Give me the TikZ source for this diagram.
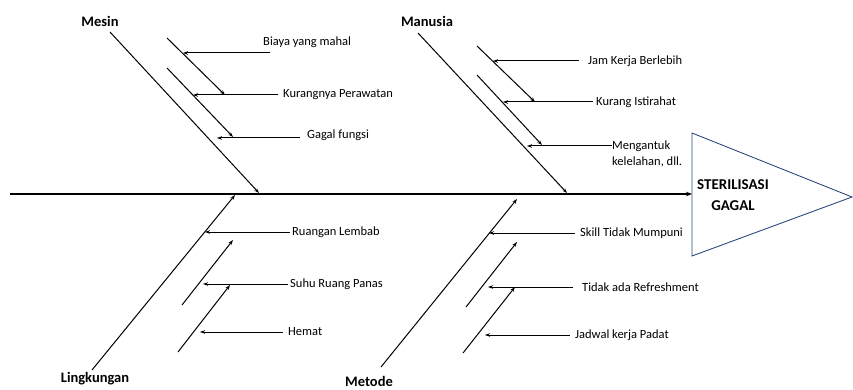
\documentclass[tikz,border=0pt]{standalone}
\usepackage{fontspec}
\setmainfont{Carlito}
\usetikzlibrary{arrows.meta}
\definecolor{tri}{RGB}{47,72,125}
\begin{document}
\begin{tikzpicture}[x=1pt,y=-1pt,
  bone/.style={line width=1pt,-{Stealth[length=5pt,width=3.5pt]}},
  cause/.style={line width=1pt,-{Stealth[length=5pt,width=3.5pt]}},
  lab/.style={anchor=west,inner sep=0pt,font=\fontsize{12.5}{14}\selectfont},
  cat/.style={inner sep=0pt,font=\fontsize{14.5}{16}\selectfont\bfseries},
  spine/.style={line width=1.7pt,-{Stealth[length=6pt,width=4.5pt]}}]
\useasboundingbox (0,0) rectangle (853,390);
% head
\draw[tri,line width=0.9pt] (692,133) -- (852,197) -- (692,256) -- cycle;
\node[inner sep=0pt,align=center,font=\fontsize{15}{21}\selectfont\bfseries] (head) at (733,195) {STERILISASI\\GAGAL};
% spine
\coordinate (s0) at (10,194);
\coordinate (s1) at (692,194);
\draw[spine] (s0) -- (s1);
% categories
\node[cat] (mesin) at (100,21) {Mesin};
\node[cat] (manusia) at (427,21) {Manusia};
\node[cat] (lingk) at (95,379) {Lingkungan};
\node[cat] (metode) at (369,381) {Metode};
\coordinate (m0) at (110,32); \coordinate (m1) at (259,193);
\coordinate (h0) at (418,33); \coordinate (h1) at (567,193);
\coordinate (l0) at (92,370); \coordinate (l1) at (235,195);
\coordinate (t0) at (381,367); \coordinate (t1) at (517,199);
\draw[bone] (m0) -- (m1);
\draw[bone] (h0) -- (h1);
\draw[bone] (l0) -- (l1);
\draw[bone] (t0) -- (t1);
% sub-bones
\coordinate (ma0) at (167,38);  \coordinate (ma1) at (225,95);
\coordinate (mb0) at (167,68);  \coordinate (mb1) at (233,137);
\coordinate (ha0) at (477,46);  \coordinate (ha1) at (535,102);
\coordinate (hb0) at (477,75);  \coordinate (hb1) at (542,145);
\coordinate (la0) at (182,305); \coordinate (la1) at (233,240);
\coordinate (lb0) at (178,352); \coordinate (lb1) at (230,285);
\coordinate (ta0) at (466,307); \coordinate (ta1) at (517,242);
\coordinate (tb0) at (463,353); \coordinate (tb1) at (515,287);
\foreach \a in {ma,mb,ha,hb,la,lb,ta,tb} \draw[cause] (\a0) -- (\a1);
% cause labels
\node[lab] (c1) at (263,42) {Biaya yang mahal};
\node[lab] (c2) at (283,95) {Kurangnya Perawatan};
\node[lab] (c3) at (307,135) {Gagal fungsi};
\node[lab] (c4) at (588,61) {Jam Kerja Berlebih};
\node[lab] (c5) at (596,102) {Kurang Istirahat};
\node[lab,align=left,font=\fontsize{12.5}{16}\selectfont] (c6) at (612,154) {Mengantuk\\kelelahan, dll.};
\node[lab] (c7) at (292,232) {Ruangan Lembab};
\node[lab] (c8) at (290,284) {Suhu Ruang Panas};
\node[lab] (c9) at (288,332) {Hemat};
\node[lab] (c10) at (580,233) {Skill Tidak Mumpuni};
\node[lab] (c11) at (582,287) {Tidak ada Refreshment};
\node[lab] (c12) at (575,335) {Jadwal kerja Padat};
% cause arrows
\coordinate (a1) at (270,53);  \coordinate (b1) at (183,53);
\coordinate (a2) at (278,95);  \coordinate (b2) at (193,95);
\coordinate (a3) at (300,138); \coordinate (b3) at (217,138);
\coordinate (a4) at (579,61);  \coordinate (b4) at (493,61);
\coordinate (a5) at (593,102); \coordinate (b5) at (503,102);
\coordinate (a6) at (612,146); \coordinate (b6) at (527,146);
\coordinate (a7) at (290,232); \coordinate (b7) at (205,232);
\coordinate (a8) at (288,284); \coordinate (b8) at (203,284);
\coordinate (a9) at (283,332); \coordinate (b9) at (200,332);
\coordinate (a10) at (575,233); \coordinate (b10) at (489,233);
\coordinate (a11) at (573,287); \coordinate (b11) at (488,287);
\coordinate (a12) at (570,335); \coordinate (b12) at (485,335);
\foreach \i in {1,...,12} \draw[cause] (a\i) -- (b\i);
\end{tikzpicture}
\end{document}
